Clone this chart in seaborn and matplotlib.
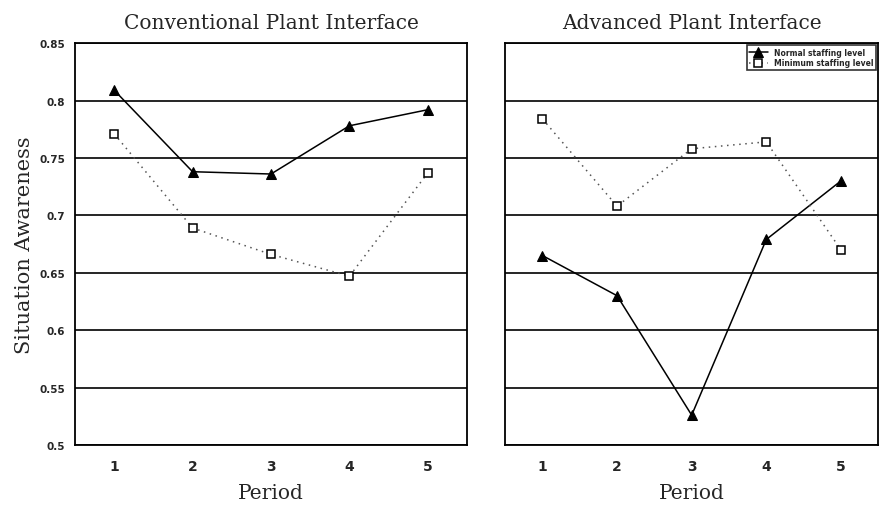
import matplotlib
matplotlib.use("Agg")
import matplotlib.pyplot as plt
import seaborn as sns
import pandas as pd

periods = [1, 2, 3, 4, 5]

conv_normal = [0.809, 0.738, 0.736, 0.778, 0.792]
conv_minimum = [0.771, 0.689, 0.666, 0.647, 0.737]

adv_normal = [0.665, 0.630, 0.526, 0.679, 0.730]
adv_minimum = [0.784, 0.708, 0.758, 0.764, 0.670]

y_ticks = [0.5, 0.55, 0.6, 0.65, 0.7, 0.75, 0.8, 0.85]
y_tick_labels = ["0.5", "0.55", "0.6", "0.65", "0.7", "0.75", "0.8", "0.85"]

titles = ["Conventional Plant Interface", "Advanced Plant Interface"]
series_names = ["Normal staffing level", "Minimum staffing level"]

sns.set_theme(style="white")
plt.rcParams["font.family"] = ["DejaVu Serif", "Liberation Serif"]

fig = plt.figure(figsize=(8.8, 5.1), dpi=100)
ax_left = fig.add_axes([0.0852, 0.1255, 0.4455, 0.788])
ax_right = fig.add_axes([0.574, 0.1255, 0.424, 0.788])


def draw_panel(ax, normal, minimum, title, show_y, show_legend):
    df = pd.DataFrame({"Period": periods, "normal": normal, "minimum": minimum})
    for y in y_ticks:
        ax.axhline(y, color="black", lw=1.2, zorder=1)
    sns.lineplot(data=df, x="Period", y="normal", ax=ax, color="black", lw=1.1,
                 marker="^", markersize=7, markerfacecolor="black",
                 markeredgecolor="black", label=series_names[0], zorder=3)
    sns.lineplot(data=df, x="Period", y="minimum", ax=ax, color="#555555", lw=1.1,
                 linestyle=(0, (1, 3)), marker="s", markersize=5.5,
                 markerfacecolor="white", markeredgecolor="black",
                 markeredgewidth=1.1, label=series_names[1], zorder=3)
    ax.set_xlim(0.5, 5.5)
    ax.set_ylim(0.5, 0.85)
    ax.set_xticks(periods)
    ax.set_xticklabels([str(p) for p in periods], fontsize=10, fontweight="bold",
                       family="DejaVu Sans")
    ax.set_yticks(y_ticks)
    if show_y:
        ax.set_yticklabels(y_tick_labels, fontsize=7.5, fontweight="bold",
                           family="DejaVu Sans")
        ax.set_ylabel("Situation Awareness", fontsize=15, labelpad=4)
    else:
        ax.set_yticklabels([])
        ax.set_ylabel("")
    ax.tick_params(axis="x", length=0, pad=10)
    ax.tick_params(axis="y", length=0, pad=7)
    ax.set_xlabel("Period", fontsize=14.5, labelpad=7)
    ax.set_title(title, fontsize=14.5, pad=11)
    for s in ax.spines.values():
        s.set_color("black")
        s.set_linewidth(1.3)
    if show_legend:
        leg = ax.legend(loc="upper right", frameon=True, fancybox=False,
                        borderpad=0.3, handlelength=2.5, labelspacing=0.2,
                        borderaxespad=0.3, prop={"family": "DejaVu Sans",
                                                 "weight": "bold", "size": 5.5})
        leg.get_frame().set_edgecolor("black")
        leg.get_frame().set_linewidth(1.2)
    else:
        ax.get_legend().remove()


draw_panel(ax_left, conv_normal, conv_minimum, titles[0], True, False)
draw_panel(ax_right, adv_normal, adv_minimum, titles[1], False, True)

fig.savefig("out.png", dpi=100)
